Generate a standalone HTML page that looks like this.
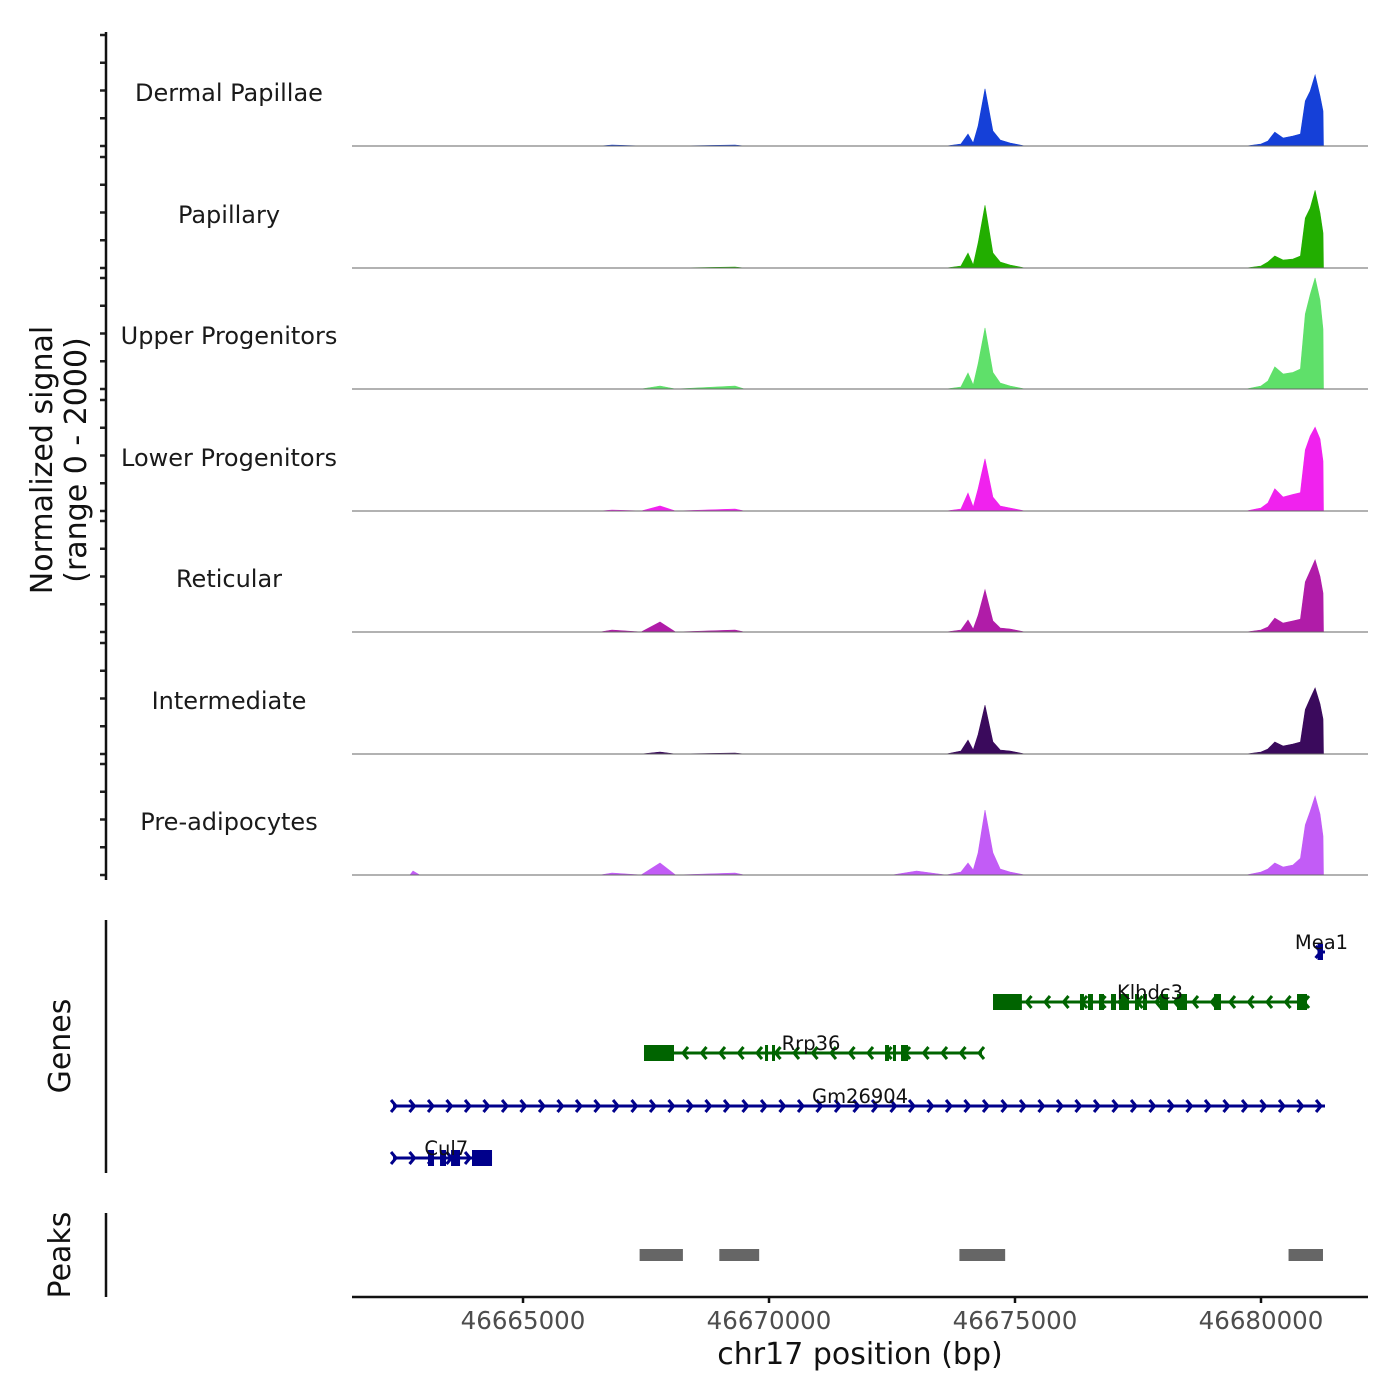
<!DOCTYPE html>
<html><head><meta charset="utf-8"><style>
html,body{margin:0;padding:0;background:#fff;}
svg{display:block;font-family:"DejaVu Sans","Liberation Sans",sans-serif;}
</style></head><body>
<svg id="chart" width="1400" height="1400" viewBox="0 0 1400 1400">
<g id="tracks"></g>
<g id="genes"></g>
<g id="peaks"></g>
<g id="axes"></g>
</svg>
<script>
const groups = ["Dermal Papillae","Papillary","Upper Progenitors","Lower Progenitors","Reticular","Intermediate","Pre-adipocytes"];
const groupColors = ["#1540d8","#22ae00","#5fe06a","#f022ee","#b01ca8","#3a0a5c","#c25cf6"];
const positions = [46661524,46662700,46662764,46662900,46666565,46666809,46667400,46667785,46668100,46669309,46669500,46672500,46673000,46673600,46673900,46674045,46674150,46674250,46674390,46674550,46674700,46674900,46675200,46679700,46680000,46680140,46680280,46680450,46680650,46680800,46680900,46681000,46681100,46681200,46681260,46681270,46682175];
const sigDermal = [0,0,0,0,0,18,0,0,0,18,0,0,0,0,36,216,54,360,1030,270,108,54,0,0,36,90,250,144,180,216,810,990,1280,900,630,0,0];
const sigPapillary = [0,0,0,0,0,0,0,0,0,18,0,0,0,0,36,270,54,450,1130,270,108,54,0,0,36,108,216,144,162,216,900,1080,1400,990,630,0,0];
const sigUpper = [0,0,0,0,0,0,0,54,0,54,0,0,0,0,36,290,72,450,1100,300,108,54,0,0,54,144,400,270,300,360,1350,1700,2000,1600,1080,0,0];
const sigLower = [0,0,0,0,0,18,0,90,0,36,0,0,0,0,36,324,72,400,940,250,90,54,0,0,54,144,400,250,300,330,1100,1350,1510,1300,900,0,0];
const sigReticular = [0,0,0,0,0,36,0,180,0,36,0,0,0,0,36,216,54,300,760,200,72,54,0,0,36,90,250,160,200,230,900,1100,1300,1000,700,0,0];
const sigIntermediate = [0,0,0,0,0,0,0,36,0,18,0,0,0,0,54,250,72,350,880,220,72,54,0,0,36,90,216,144,180,216,800,1000,1190,900,630,0,0];
const sigPreadipo = [0,0,72,0,0,36,0,216,0,36,0,0,72,0,54,216,90,400,1170,400,108,54,0,0,54,108,216,144,180,300,900,1150,1420,1100,700,0,0];
const signals = [sigDermal,sigPapillary,sigUpper,sigLower,sigReticular,sigIntermediate,sigPreadipo];
const xTicks = [46665000,46670000,46675000,46680000];
const yTicks = [0,500,1000,1500,2000];
const geneNames = ["Mea1","Klhdc3","Rrp36","Gm26904","Cul7"];
const geneStarts = [46681150,46674553,46667459,46662358,46662358];
const geneEnds = [46681301,46680935,46674329,46681301,46664370];
const geneStrands = [1,-1,-1,1,1];
const geneExons = [
  [[46681150,46681260]],
  [[46674553,46675140],[46676321,46676402],[46676484,46676585],[46676707,46676809],[46676951,46677053],[46677114,46677317],[46677439,46677520],[46677602,46677683],[46677947,46678110],[46678293,46678496],[46679045,46679187],[46680732,46680935]],
  [[46667459,46668069],[46669919,46669980],[46670061,46670122],[46672358,46672439],[46672520,46672581],[46672683,46672825]],
  [],
  [[46663069,46663191],[46663313,46663435],[46663537,46663720],[46663963,46664370]]
];
const geneLabelPos = [46681230,46677744,46670854,46671850,46663440];
const peakStarts = [46667370,46668990,46673870,46680560];
const peakEnds = [46668250,46669800,46674800,46681260];

const NS="http://www.w3.org/2000/svg";
const X0=352,X1=1368, bpStart=46661524, bpEnd=46682175;
function xScale(bp){return X0+(bp-bpStart)/(bpEnd-bpStart)*(X1-X0);}
const baselines=[146,268,389,511,632,754,875];
const trackH=111;
function yScale(v,i){return baselines[i]-v/2000*trackH;}
function mk(tag,attrs,parent){const e=document.createElementNS(NS,tag);for(const k in attrs)e.setAttribute(k,attrs[k]);parent.appendChild(e);return e;}

const tracks=document.getElementById('tracks');
signals.forEach((sig,i)=>{
  let d=`M${xScale(positions[0])},${baselines[i]}`;
  positions.forEach((p,j)=>{d+=` L${xScale(p).toFixed(1)},${yScale(sig[j],i).toFixed(1)}`;});
  d+=` L${xScale(positions[positions.length-1])},${baselines[i]} Z`;
  const a=mk('path',{d:d,fill:groupColors[i],stroke:groupColors[i],'stroke-width':0.6},tracks);
  
  
  const b=mk('line',{x1:X0,x2:X1,y1:baselines[i],y2:baselines[i],stroke:'#666','stroke-width':1},tracks);
  
  
  const t=mk('text',{x:229,y:baselines[i]-54+9,'text-anchor':'middle','font-size':24,fill:'#1a1a1a'},tracks);
  t.textContent=groups[i];
  
  
  yTicks.forEach(v=>{
    const tk=mk('line',{x1:100,x2:106,y1:yScale(v,i),y2:yScale(v,i),stroke:'#222','stroke-width':2.5},tracks);
    
    
  });
});

const genes=document.getElementById('genes');
const rowY=[952,1002,1053,1106,1158];
geneNames.forEach((g,i)=>{
  const col=geneStrands[i]>0?'#00008b':'#006400';
  const y=rowY[i];
  const x1=xScale(geneStarts[i]),x2=xScale(geneEnds[i]);
  const ln=mk('line',{x1:x1,x2:x2,y1:y,y2:y,stroke:col,'stroke-width':3},genes);
  
  
  const s=geneStrands[i];
  for(let k=0;;k++){
    const x = s>0 ? x1+3+k*18.5 : x2-3-k*18.5;
    if(x<x1-1||x>x2+1) break;
    const p=mk('path',{d:`M${x-5*s},${y-6} L${x},${y} L${x-5*s},${y+6}`,fill:'none',stroke:col,'stroke-width':3},genes);
    
    
  }
  geneExons[i].forEach(ex=>{
    const r=mk('rect',{x:xScale(ex[0]),y:y-8,width:Math.max(3,xScale(ex[1])-xScale(ex[0])),height:16,fill:col},genes);
    
    
  });
  const t=mk('text',{x:xScale(geneLabelPos[i]),y:y-3,'text-anchor':'middle','font-size':19.5,fill:'#111'},genes);
  t.textContent=g;
  
  
});

const peaks=document.getElementById('peaks');
peakStarts.forEach((s,i)=>{
  const r=mk('rect',{x:xScale(s),y:1249,width:xScale(peakEnds[i])-xScale(s),height:12,fill:'#666'},peaks);
  
  
});

const axes=document.getElementById('axes');
function line(a,name){const e=mk('line',a,axes);return e;}
line({x1:106,x2:106,y1:32,y2:880,stroke:'#111','stroke-width':2.5},'y-axis-line');
line({x1:106,x2:106,y1:920,y2:1173,stroke:'#111','stroke-width':2.5},'genes-axis-line');
line({x1:106,x2:106,y1:1213,y2:1297,stroke:'#111','stroke-width':2.5},'peaks-axis-line');
line({x1:352,x2:1368,y1:1297,y2:1297,stroke:'#111','stroke-width':2.5},'x-axis-line');
xTicks.forEach(v=>{
  line({x1:xScale(v),x2:xScale(v),y1:1297,y2:1303,stroke:'#111','stroke-width':2.5},'x-tick');
  const t=mk('text',{x:xScale(v),y:1329,'text-anchor':'middle','font-size':24.5,fill:'#4d4d4d'},axes);
  t.textContent=v;
  
  
});
function txt(x,y,s,size,name,rot){const t=mk('text',{x:x,y:y,'text-anchor':'middle','font-size':size,fill:'#111'},axes);if(rot)t.setAttribute('transform',`rotate(-90 ${x} ${y})`);t.textContent=s;return t;}
txt(860,1364,'chr17 position (bp)',30,'x-axis-title');
txt(52,460,'Normalized signal',30,'y-axis-title',true);
txt(86,460,'(range 0 - 2000)',30,'y-axis-subtitle',true);
txt(70,1046,'Genes',30,'genes-axis-title',true);
txt(70,1255,'Peaks',30,'peaks-axis-title',true);
</script>
</body></html>
